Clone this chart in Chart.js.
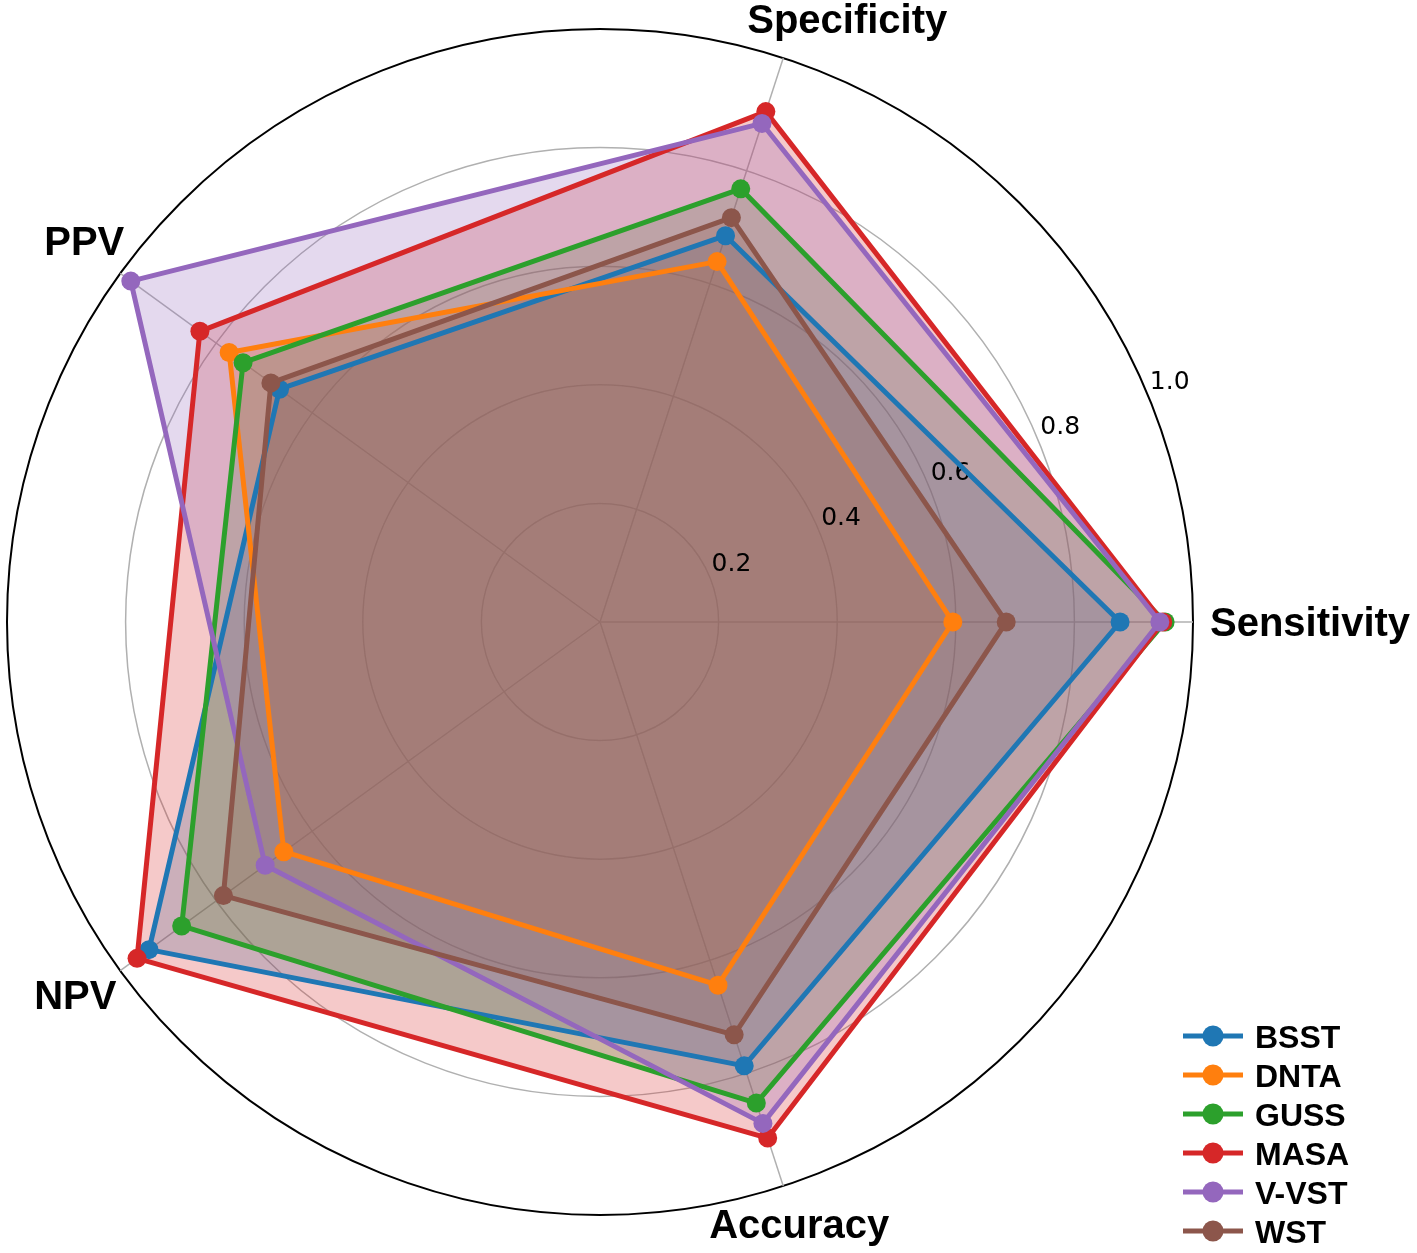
<!DOCTYPE html>
<html>
<head>
<meta charset="utf-8">
<style>
html, body { margin: 0; padding: 0; background: #ffffff; }
#wrap { width: 1417px; height: 1253px; position: relative; }
</style>
<script src="https://cdn.jsdelivr.net/npm/chart.js@4.4.1/dist/chart.umd.min.js"></script>
</head>
<body>
<div id="wrap"><canvas id="c" width="1417" height="1253"></canvas></div>
<script>
// ---- data ----
const categories = ['Sensitivity', 'Specificity', 'PPV', 'NPV', 'Accuracy'];
const seriesNames = ['BSST', 'DNTA', 'GUSS', 'MASA', 'V-VST', 'WST'];
const BSST = [0.877, 0.685, 0.668, 0.940, 0.787];
const DNTA = [0.595, 0.639, 0.773, 0.659, 0.644];
const GUSS = [0.953, 0.768, 0.744, 0.872, 0.853];
const MASA = [0.949, 0.905, 0.834, 0.965, 0.915];
const VVST = [0.944, 0.884, 0.978, 0.698, 0.889];
const WST  = [0.685, 0.717, 0.686, 0.785, 0.732];
const radialTickValues = [0.2, 0.4, 0.6, 0.8, 1.0];
const radialTickLabels = ['0.2', '0.4', '0.6', '0.8', '1.0'];

// ---- styles ----
const colors = ['#1f77b4', '#ff7f0e', '#2ca02c', '#d62728', '#9467bd', '#8c564b'];
const seriesValues = [BSST, DNTA, GUSS, MASA, VVST, WST];

// Chart.js places categories clockwise; the reference runs counter-clockwise from the right.
const cjOrder = [0, 4, 3, 2, 1];
const cjLabels = cjOrder.map(i => categories[i]);

function rgba(hex, a) {
  const n = parseInt(hex.slice(1), 16);
  return 'rgba(' + ((n >> 16) & 255) + ',' + ((n >> 8) & 255) + ',' + (n & 255) + ',' + a + ')';
}

const datasets = seriesNames.map((name, k) => ({
  label: name,
  data: cjOrder.map(i => seriesValues[k][i]),
  borderColor: colors[k],
  backgroundColor: rgba(colors[k], 0.25),
  borderWidth: 5,
  borderJoinStyle: 'round',
  pointRadius: 9.5,
  pointHoverRadius: 9.5,
  pointBackgroundColor: colors[k],
  pointBorderColor: colors[k],
  pointBorderWidth: 0,
  fill: true,
  tension: 0,
  order: seriesNames.length - 1 - k
}));

// label placement relative to each axis end point (dx, baseline dy, alignment)
const labelPlacement = {
  'Sensitivity': { dx: 17, dy: 14, align: 'left' },
  'Specificity': { dx: 64, dy: -25, align: 'center' },
  'PPV':         { dx: -36, dy: -18, align: 'center' },
  'NPV':         { dx: -45, dy: 38, align: 'center' },
  'Accuracy':    { dx: 16, dy: 52, align: 'center' }
};

const decorPlugin = {
  id: 'decor',
  beforeDatasetsDraw(chart) {
    // drawn after all fills (filler runs first), before the lines
    const s = chart.scales.r;
    const ctx = chart.ctx;
    ctx.save();
    ctx.font = '25px "DejaVu Sans"';
    ctx.fillStyle = '#000000';
    ctx.textAlign = 'left';
    ctx.textBaseline = 'alphabetic';
    const a = 22.5 * Math.PI / 180;
    radialTickValues.forEach((v, i) => {
      const r = s.getDistanceFromCenterForValue(v);
      const x = s.xCenter + r * Math.cos(a);
      const y = s.yCenter - r * Math.sin(a);
      ctx.fillText(radialTickLabels[i], x + 2, y - 6);
    });
    ctx.restore();
  },
  afterDraw(chart) {
    const s = chart.scales.r;
    const ctx = chart.ctx;
    ctx.save();
    // category labels
    ctx.font = 'bold 40px "Liberation Sans", Arial, sans-serif';
    ctx.fillStyle = '#000000';
    ctx.textBaseline = 'alphabetic';
    cjLabels.forEach((lab, idx) => {
      const p = s.getPointPosition(idx, s.drawingArea);
      const pl = labelPlacement[lab];
      ctx.textAlign = pl.align;
      ctx.fillText(lab, p.x + pl.dx, p.y + pl.dy);
    });
    // legend
    const lx0 = 1183, lx1 = 1243, mx = 1213, tx = 1255, y0 = 1036, dy = 39;
    ctx.font = 'bold 32px "Liberation Sans", Arial, sans-serif';
    ctx.textAlign = 'left';
    seriesNames.forEach((name, k) => {
      const y = y0 + k * dy;
      ctx.strokeStyle = colors[k];
      ctx.lineWidth = 5;
      ctx.beginPath();
      ctx.moveTo(lx0, y);
      ctx.lineTo(lx1, y);
      ctx.stroke();
      ctx.fillStyle = colors[k];
      ctx.beginPath();
      ctx.arc(mx, y, 10.5, 0, Math.PI * 2);
      ctx.fill();
      ctx.fillStyle = '#000000';
      ctx.fillText(name, tx, y + 12);
    });
    ctx.restore();
  }
};

new Chart(document.getElementById('c'), {
  type: 'radar',
  data: { labels: cjLabels, datasets: datasets },
  options: {
    responsive: false,
    devicePixelRatio: 1,
    animation: false,
    events: [],
    layout: { padding: { left: 7, top: 29, right: 224, bottom: 38 } },
    plugins: {
      legend: { display: false },
      tooltip: { enabled: false },
      filler: { drawTime: 'beforeDatasetsDraw' }
    },
    elements: { line: { tension: 0 } },
    scales: {
      r: {
        min: 0,
        max: 1,
        startAngle: 90,
        ticks: { stepSize: 0.2, display: false },
        pointLabels: { display: false },
        grid: {
          circular: true,
          color: ctx => (ctx.tick && ctx.tick.value > 0.999) ? '#000000' : '#b0b0b0',
          lineWidth: ctx => (ctx.tick && ctx.tick.value > 0.999) ? 2 : 1.5
        },
        angleLines: { display: true, color: '#b0b0b0', lineWidth: 1.5 }
      }
    }
  },
  plugins: [decorPlugin]
});
</script>
</body>
</html>
